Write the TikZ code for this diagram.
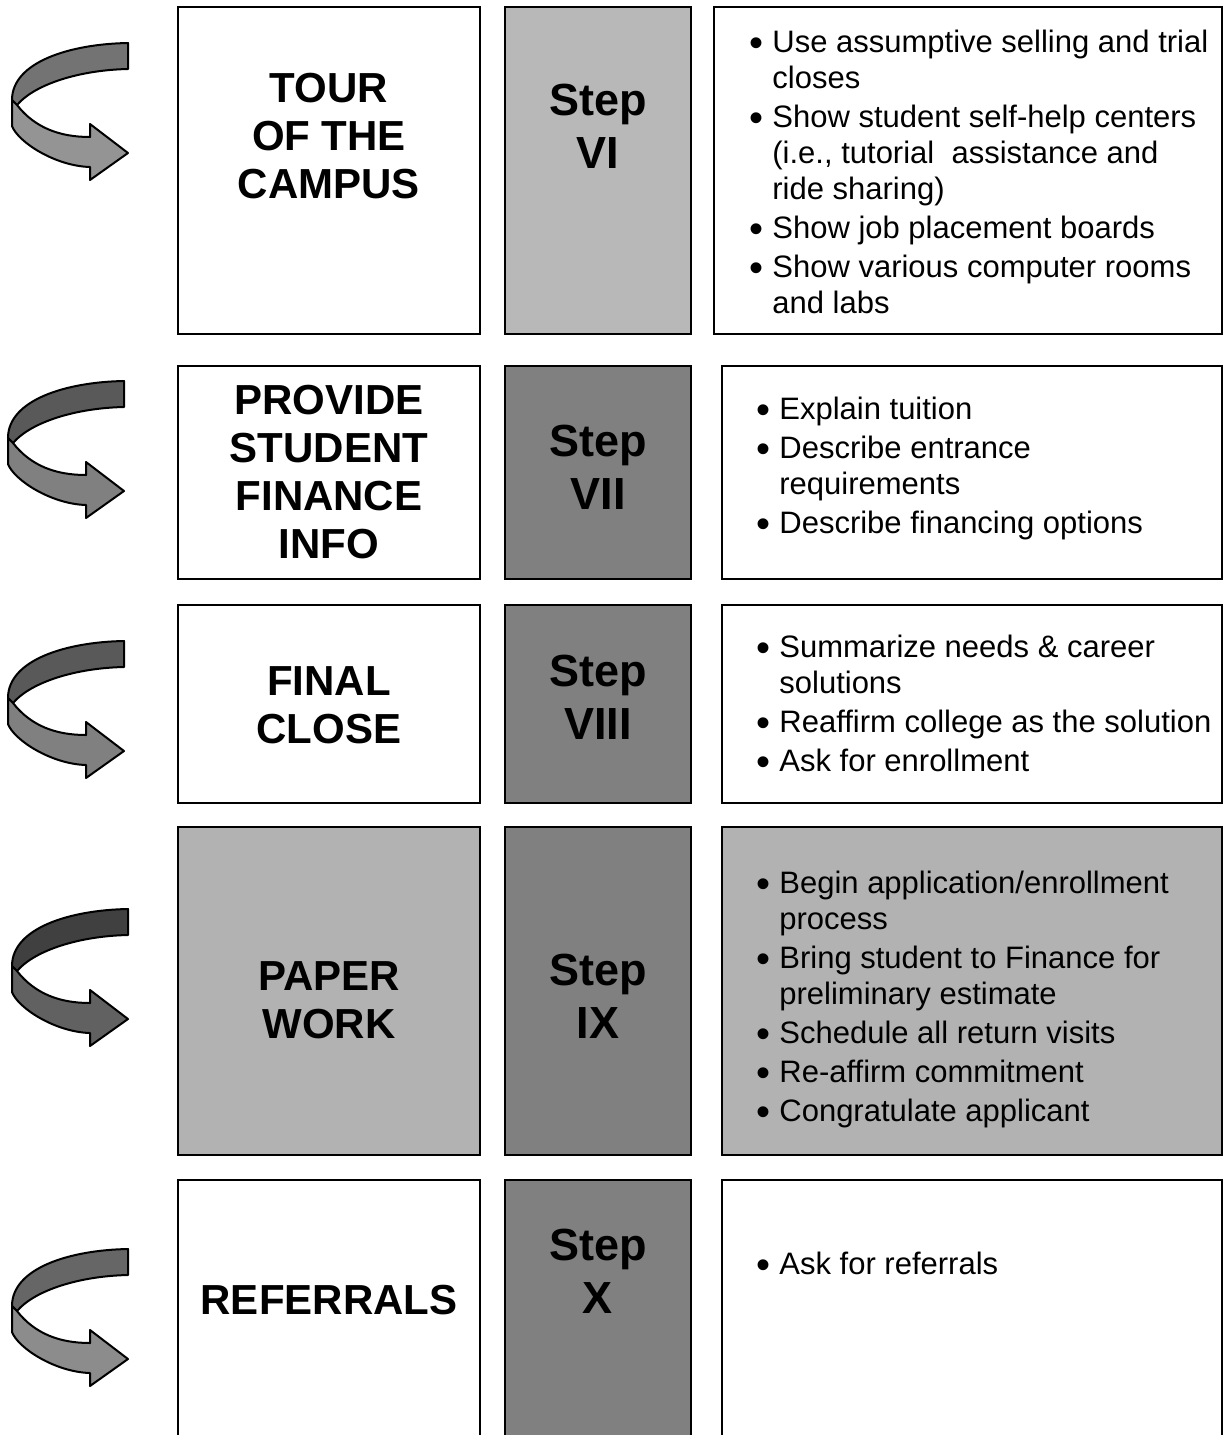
\documentclass[tikz,border=0pt]{standalone}
\usepackage{fontspec}
\setmainfont{Liberation Sans}

\newcommand{\puce}{\makebox[11.5pt][l]{\raisebox{-1.6pt}{\fontsize{20}{18}\selectfont\textbullet}}}
\newcommand{\suite}{\hspace*{11.5pt}}

\tikzset{
  cadre/.style={draw=black, line width=1pt},
  titre/.style={align=center, inner sep=0pt, font=\fontsize{21}{24}\selectfont\bfseries},
  etape/.style={align=center, inner sep=0pt, font=\fontsize{22.5}{26.5}\selectfont\bfseries},
  liste/.style={align=left, anchor=north west, inner sep=0pt, font=\fontsize{15.5}{18}\selectfont},
  virage/.style={draw=black, line width=1pt, line join=round}
}

\begin{document}
\begin{tikzpicture}[x=0.5pt, y=-0.5pt]

  % Cadre de l'image (1224 x 1435 px)
  \useasboundingbox (0,0) rectangle (1224,1435);
  \fill[white] (0,0) rectangle (1224,1435);
  \clip (0,0) rectangle (1224,1435);

  % Les trois colonnes de cadres, une ligne par etape
  \foreach \ya/\yb/\xd/\fg/\fe/\fd in {7/334/714/white/black!28/white,
      366/579/722/white/black!50/white, 605/803/722/white/black!50/white,
      827/1155/722/black!30/black!50/black!30, 1180/1470/722/white/black!50/white} {
    \draw[cadre, fill=\fg] (178,\ya) rectangle (480,\yb);
    \draw[cadre, fill=\fe] (505,\ya) rectangle (691,\yb);
    \draw[cadre, fill=\fd] (\xd,\ya) rectangle (1222,\yb);
  }

  % Fleches en U a gauche (bande arriere foncee, bande avant claire)
  \foreach \dx/\dy/\fonce/\clair in {0/0/55/42, -4/338/65/50, -4/598/65/50,
      0/866/75/62, 0/1206/60/45} {
    \begin{scope}[shift={(\dx,\dy)}]
      \filldraw[virage, fill=black!\fonce] (128,43)
        .. controls (70,44) and (12,62) .. (12,100) -- (17,105)
        .. controls (35,84) and (80,70) .. (128,69) -- cycle;
      \filldraw[virage, fill=black!\clair] (12,100) -- (17,105)
        .. controls (35,128) and (60,137) .. (90,137) -- (90,124)
        -- (128,153) -- (90,180) -- (90,167)
        .. controls (55,166) and (18,142) .. (12,126) -- cycle;
    \end{scope}
  }

  % Titres et numeros des etapes
  \foreach \yt/\yc/\titre/\num [count=\i] in {136/126/{TOUR\\OF THE\\CAMPUS}/VI,
      472/467/{PROVIDE\\STUDENT\\FINANCE\\INFO}/VII, 705/697/{FINAL\\CLOSE}/VIII,
      1000/996/{PAPER\\WORK}/IX, 1300/1271/{REFERRALS}/X} {
    \node[titre] (titre\i) at (329,\yt) {\titre};
    \node[etape] (etape\i) at (598,\yc) {Step\\\num};
  }

  % Listes a puces de la colonne de droite
  \node[liste] (liste1) at (749,30) {\puce Use assumptive selling and trial\\
    \suite closes\\[1.5pt]
    \puce Show student self-help centers\\
    \suite (i.e., tutorial\ \ assistance and\\
    \suite ride sharing)\\[1.5pt]
    \puce Show job placement boards\\[1.5pt]
    \puce Show various computer rooms\\
    \suite and labs};
  \node[liste] (liste2) at (756,397) {\puce Explain tuition\\[1.5pt]
    \puce Describe entrance\\
    \suite requirements\\[1.5pt]
    \puce Describe financing options};
  \node[liste] (liste3) at (756,635) {\puce Summarize needs \& career\\
    \suite solutions\\[1.5pt]
    \puce Reaffirm college as the solution\\[1.5pt]
    \puce Ask for enrollment};
  \node[liste] (liste4) at (756,871) {\puce Begin application/enrollment\\
    \suite process\\[1.5pt]
    \puce Bring student to Finance for\\
    \suite preliminary estimate\\[1.5pt]
    \puce Schedule all return visits\\[1.5pt]
    \puce Re-affirm commitment\\[1.5pt]
    \puce Congratulate applicant};
  \node[liste] (liste5) at (756,1252) {\puce Ask for referrals};

\end{tikzpicture}
\end{document}
